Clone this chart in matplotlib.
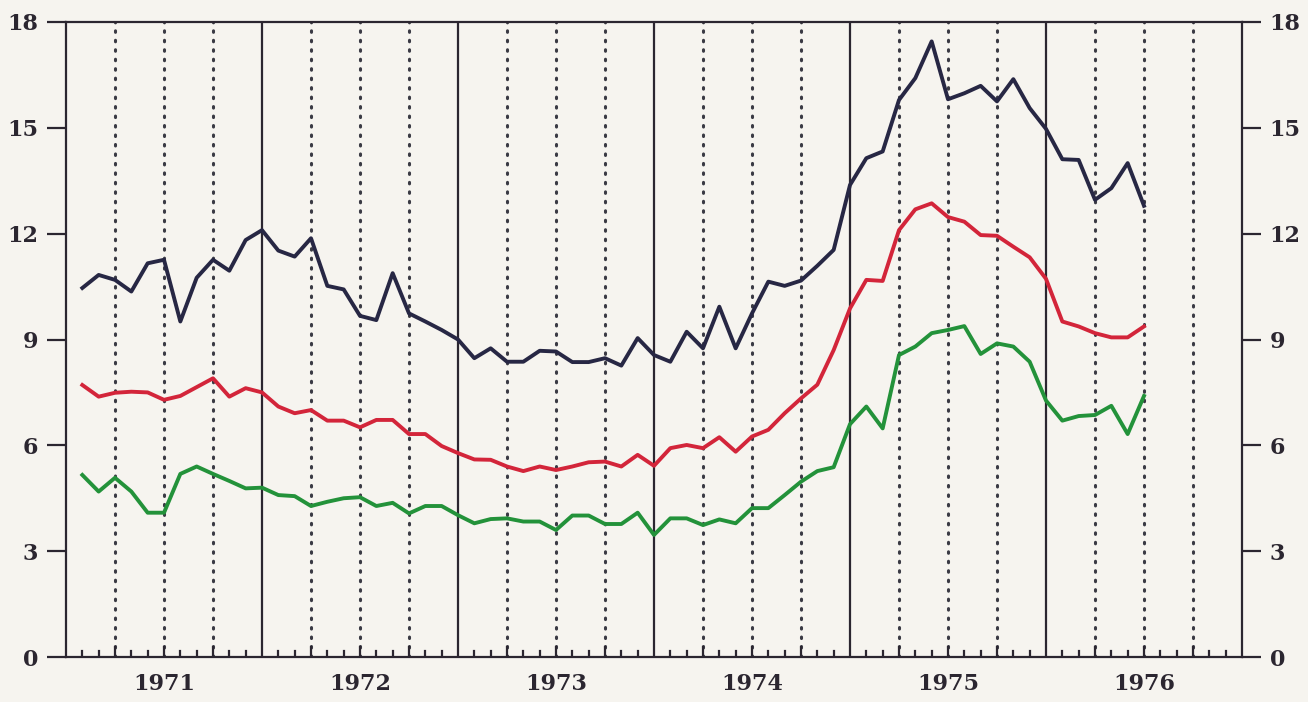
import numpy as np
import matplotlib.pyplot as plt

# monthly values, Jan 1971 - Jun 1976
blue = [10.46, 10.83, 10.69, 10.36, 11.16, 11.26, 9.51, 10.75, 11.26, 10.95, 11.82, 12.10,
        11.52, 11.35, 11.87, 10.52, 10.42, 9.67, 9.55, 10.88, 9.74, 9.51, 9.27, 9.00,
        8.47, 8.75, 8.37, 8.37, 8.68, 8.66, 8.36, 8.36, 8.47, 8.26, 9.04, 8.56,
        8.37, 9.22, 8.75, 9.93, 8.75, 9.74, 10.64, 10.52, 10.67, 11.09, 11.54, 13.38,
        14.14, 14.33, 15.79, 16.41, 17.45, 15.81, 15.98, 16.19, 15.75, 16.38, 15.56, 14.97,
        14.11, 14.09, 12.96, 13.29, 14.00, 12.79]
red = [7.71, 7.38, 7.49, 7.52, 7.50, 7.29, 7.40, 7.65, 7.90, 7.38, 7.62, 7.50,
       7.10, 6.91, 7.00, 6.70, 6.70, 6.51, 6.72, 6.72, 6.32, 6.32, 5.98, 5.78,
       5.60, 5.59, 5.40, 5.27, 5.40, 5.30, 5.40, 5.52, 5.54, 5.40, 5.73, 5.42,
       5.92, 6.01, 5.92, 6.23, 5.82, 6.25, 6.44, 6.91, 7.33, 7.72, 8.70, 9.88,
       10.69, 10.66, 12.10, 12.69, 12.86, 12.47, 12.34, 11.96, 11.94, 11.63, 11.33, 10.72,
       9.51, 9.37, 9.18, 9.06, 9.06, 9.37]
green = [5.16, 4.69, 5.08, 4.69, 4.09, 4.09, 5.19, 5.40, 5.19, 4.99, 4.78, 4.80,
         4.59, 4.56, 4.28, 4.40, 4.50, 4.53, 4.28, 4.37, 4.07, 4.28, 4.28, 4.02,
         3.79, 3.91, 3.93, 3.84, 3.84, 3.60, 4.01, 4.01, 3.77, 3.77, 4.09, 3.46,
         3.93, 3.93, 3.74, 3.90, 3.79, 4.22, 4.22, 4.59, 4.97, 5.27, 5.38, 6.60,
         7.10, 6.48, 8.56, 8.80, 9.18, 9.27, 9.38, 8.59, 8.89, 8.80, 8.37, 7.27,
         6.70, 6.83, 6.86, 7.12, 6.32, 7.40]
years = [1971, 1972, 1973, 1974, 1975, 1976]
yticks = [0, 3, 6, 9, 12, 15, 18]

bg = '#f6f4ef'
ink = '#2b2630'
x = 1971 + np.arange(1, len(blue) + 1) / 12.0

fig = plt.figure(figsize=(13.08, 7.02), dpi=100, facecolor=bg)
ax = fig.add_axes([66 / 1308, 1 - 657 / 702, 1176 / 1308, 635 / 702])
ax.set_facecolor(bg)
ax.set_xlim(1971, 1977)
ax.set_ylim(0, 18)

# grid: solid year lines, dotted quarter lines
for yr in range(1972, 1977):
    ax.axvline(yr, color=ink, lw=1.6, zorder=1)
for yr in range(1971, 1977):
    for q in (0.25, 0.5, 0.75):
        ax.axvline(yr + q, color='#3a3a44', lw=2.2, ls=(0, (0.5, 2.6)),
                   dash_capstyle='round', zorder=1)

ax.plot(x, blue, color='#272744', lw=2.8, zorder=3)
ax.plot(x, red, color='#d3253a', lw=2.8, zorder=3)
ax.plot(x, green, color='#23923a', lw=2.8, zorder=3)

# monthly ticks along the bottom
for m in range(1, 72):
    if m % 12 == 0:
        continue
    h = 0.28 if m % 3 == 0 else 0.18
    ax.plot([1971 + m / 12.0] * 2, [0, h], color=ink, lw=1.6, zorder=2)

for s in ax.spines.values():
    s.set_color(ink)
    s.set_linewidth(1.6)

font = dict(family='DejaVu Serif', weight='bold', size=16)
ax.set_yticks(yticks)
ax.set_yticklabels([str(v) for v in yticks], **font, color=ink)
ax.tick_params(axis='y', which='both', direction='out', length=14, width=1.6,
               color=ink, right=True, labelright=True, pad=6)
ax.set_xticks([])
for yr in years:
    ax.text(yr + 0.5, -0.45, str(yr), ha='center', va='top', color=ink, **font)

fig.savefig('out.png', dpi=100, facecolor=bg)
